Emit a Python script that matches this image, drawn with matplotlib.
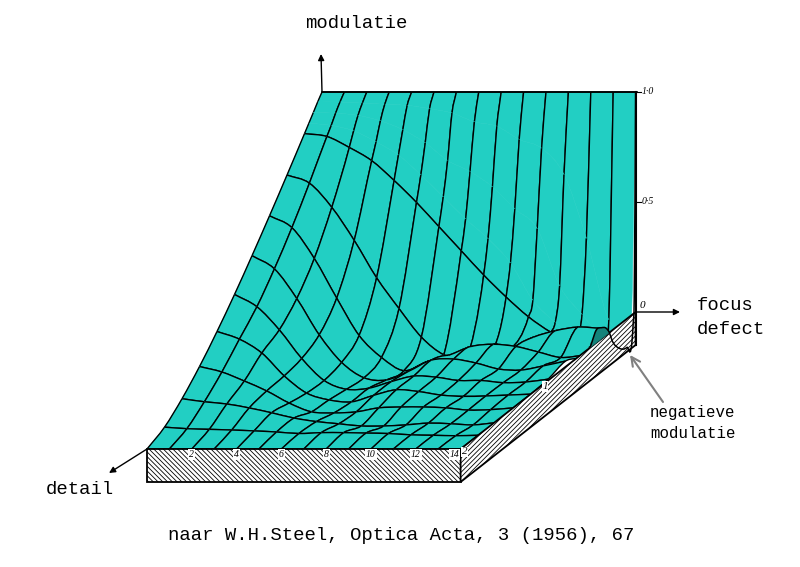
#!/bin/python3
import numpy as np
import matplotlib
matplotlib.use("Agg")
import matplotlib.pyplot as plt
from matplotlib.path import Path
from matplotlib.patches import PathPatch

# values
focus = list(range(15))
detail = [0, 0.05, 0.1, 0.15, 0.2, 0.4, 0.6, 0.8, 1.0, 1.2, 1.4, 1.6, 1.8, 2.0]
drawn_detail = [0, 0.2, 0.4, 0.6, 0.8, 1.0, 1.2, 1.4, 1.6, 1.8, 2.0]

d000 = [1, 1, 1, 1, 1, 1, 1, 1, 1, 1, 1, 1, 1, 1, 1]
d005 = [.97, .97, .965, .96, .955, .94, .92, .88, .86, .80, .76, .64, .35, -.02, -.06]
d010 = [.937, .935, .925, .90, .86, .80, .72, .67, .60, .50, .41, .15, .02, -.09, -.11]
d015 = [.905, .895, .87, .82, .76, .67, .57, .47, .38, .27, .10, .0, -.07, -.11, -.12]
d020 = [.873, .86, .81, .75, .66, .56, .45, .34, .23, .13, .04, -.03, -.08, -.10, -.10]
d040 = [.747, .71, .60, .45, .28, .14, .01, -.07, -.09, -.08, -.04, .01, .04, .056, .05]
d060 = [.624, .57, .43, .25, .08, -.02, -.08, -.04, -.01, .03, .04, .03, .005, -.02, -.01]
d080 = [.505, .445, .31, .145, .02, -.05, -.06, -.02, .03, .035, .017, -.01, -.015, .004, .026]
d100 = [.391, .335, .23, .10, 0, -.04, -.035, -.005, .02, .015, 0, 0, -.01, -.007, .006]
d120 = [.285, .25, .187, .083, .005, -.026, -.035, -.005, .02, .012, -.004, -.01, -.008, -.004, 0]
d140 = [.188, .163, .122, .077, .022, -.018, -.023, -.018, 0, .004, .004, 0, -.01, -.008, 0]
d160 = [.104, .09, .08, .062, .04, .016, 0, -.01, -.02, -.02, -.015, -.007, -.01, -.015, -.005]
d180 = [.037, .03, .027, .024, .02, .015, .008, .012, .012, .01, .008, .002, 0, -.002, 0]
d200 = [0, 0, 0, 0, 0, 0, 0, 0, 0, 0, 0, 0, 0, 0, 0]
modulation = np.array([d000, d005, d010, d015, d020, d040, d060, d080, d100,
                       d120, d140, d160, d180, d200], dtype=float)

# section along the right hand edge (focus defect 14)
edge_detail = [0, .016, .027, .04, .1, .19, .27, .3, .335, .39, .45, .5, .52]
edge_mod = [1, .06, -.04, -.115, -.13, -.105, -.044, 0, .03, .05, .058, .018, 0]

front_ticks = [2, 4, 6, 8, 10, 12, 14]
side_ticks = [1, 2]
mod_ticks = [1.0, 0.5, 0]
mod_labels = ["1·0", "0·5", "0"]

SLAB = -0.15
TEAL = "#22cfc3"
DARK = "#14837a"
MONO = "Liberation Mono"
SERIF = "Liberation Serif"


def project(f, d, z):
    # oblique view: focus goes right, detail goes down-left, modulation goes up
    f, d, z = np.asarray(f, float), np.asarray(d, float), np.asarray(z, float)
    return np.column_stack([322 + 22.4 * f - 87.5 * d + 0 * z,
                            312 + 68.5 * d - 220 * z + 0 * f])


def tangents(pts, t):
    return np.column_stack([np.gradient(pts[:, 0], t), np.gradient(pts[:, 1], t)])


def curve(pts, tan, t):
    # bezier segments through the read points, just for smooth drawing
    verts = []
    for i in range(len(t) - 1):
        h = t[i + 1] - t[i]
        verts += [pts[i] + tan[i] * h / 3, pts[i + 1] - tan[i + 1] * h / 3, pts[i + 1]]
    return verts


F = np.array(focus, float)
D = np.array(detail, float)
pts = np.zeros(modulation.shape + (2,))
for i, d in enumerate(detail):
    pts[i] = project(F, np.full(15, d), modulation[i])
along_f = np.zeros_like(pts)
along_d = np.zeros_like(pts)
for i in range(len(detail)):
    along_f[i] = tangents(pts[i], F)
for j in range(15):
    along_d[:, j] = tangents(pts[:, j], D)

fig = plt.figure(figsize=(8, 5.67), dpi=100)
ax = fig.add_axes([0, 0, 1, 1])
ax.set_xlim(0, 800)
ax.set_ylim(567, 0)
ax.axis("off")
plt.rcParams["hatch.linewidth"] = 0.6

LW = 1.0


def edge(first, seg):
    v = [first] + seg
    ax.add_patch(PathPatch(Path(v, [Path.MOVETO] + [Path.CURVE4] * (len(v) - 1)),
                           fc="none", ec="black", lw=LW))


# paint back to front so the ridges hide what lies behind them
for i in range(len(detail) - 1):
    for j in range(14):
        back = curve(pts[i, j:j + 2], along_f[i, j:j + 2], F[j:j + 2])
        right = curve(pts[i:i + 2, j + 1], along_d[i:i + 2, j + 1], D[i:i + 2])
        front = curve(pts[i + 1, [j + 1, j]], along_f[i + 1, [j + 1, j]], F[[j + 1, j]])
        left = curve(pts[[i + 1, i], j], along_d[[i + 1, i], j], D[[i + 1, i]])
        verts = [pts[i, j]] + back + right + front + left
        codes = [Path.MOVETO] + [Path.CURVE4] * (len(verts) - 1)
        ax.add_patch(PathPatch(Path(verts, codes), fc=TEAL, ec=TEAL, lw=0.4))

        if detail[i] in drawn_detail:
            edge(pts[i, j], back)
        if detail[i + 1] in drawn_detail:
            edge(pts[i + 1, j + 1], front)
        edge(pts[i + 1, j], left)
        if j < 13 or detail[i] >= 0.6:
            edge(pts[i, j + 1], right)

# slab under the surface
corners = project([0, 14, 14, 0], [2, 2, 2, 2], [0, 0, SLAB, SLAB])
ax.fill(corners[:, 0], corners[:, 1], facecolor="white", edgecolor="black", lw=1.3,
        hatch="\\\\\\\\\\\\\\")
corners = project([14, 14, 14, 14], [0, 2, 2, 0], [0, 0, SLAB, SLAB])
ax.fill(corners[:, 0], corners[:, 1], facecolor="white", edgecolor="black", lw=1.3,
        hatch="///////")

# cut through the surface on the right hand wall
ed = np.array(edge_detail, float)
em = np.array(edge_mod, float)
epts = project(np.full(len(ed), 14), ed, em)
etan = tangents(epts, ed)
lobe = np.where(ed >= 0.3)[0]
lverts = [epts[lobe[0]]] + curve(epts[lobe], etan[lobe], ed[lobe]) + [epts[lobe[0]]]
lcodes = [Path.MOVETO] + [Path.CURVE4] * (len(lverts) - 2) + [Path.LINETO]
ax.add_patch(PathPatch(Path(lverts, lcodes), fc=DARK, ec=DARK, lw=0.4, zorder=3))
everts = [epts[0]] + curve(epts, etan, ed)
ax.add_patch(PathPatch(Path(everts, [Path.MOVETO] + [Path.CURVE4] * (len(everts) - 1)),
                       fc="none", ec="black", lw=1.1, zorder=4))
wall = project([14, 14], [0, 0], [1, SLAB])
ax.plot(wall[:, 0], wall[:, 1], color="black", lw=1.5, zorder=4)
top = project([0, 14], [0, 0], [1, 1])
ax.plot(top[:, 0] + [0, 1], top[:, 1], color="black", lw=1.2, zorder=4)

# axis arrows
arrow = dict(arrowstyle="-|>", color="black", lw=1.0, mutation_scale=9, shrinkA=0, shrinkB=0)
ax.annotate("", xy=(321, 54), xytext=tuple(project([0], [0], [1])[0]), arrowprops=arrow)
ax.annotate("", xy=(680, 312), xytext=tuple(project([14], [0], [0])[0]), arrowprops=arrow)
ax.annotate("", xy=(109, 473), xytext=tuple(project([0], [2], [0])[0]), arrowprops=arrow)
ax.annotate("", xy=(630, 355), xytext=(663, 402),
            arrowprops=dict(arrowstyle="->", color="#808080", lw=1.5, mutation_scale=16,
                            shrinkA=0, shrinkB=0))

# ticks on the back edge
for v, lab in zip(mod_ticks, mod_labels):
    x, y = project([14], [0], [v])[0]
    if v > 0:
        ax.plot([x, x + 5], [y, y], color="black", lw=0.8)
        ax.text(x + 6, y, lab, fontsize=7, style="italic", family=SERIF, va="center", ha="left")
    else:
        ax.text(x + 4, y - 7, lab, fontsize=8, style="italic", family=SERIF, va="center", ha="left")

for v in front_ticks:
    x, y = project([v], [2], [-0.025])[0]
    if v == 14:
        x -= 6
    ax.text(x, y, str(v), fontsize=7, style="italic", family=SERIF, va="center", ha="center",
            zorder=5, bbox=dict(fc="white", ec="none", pad=0.6))
for v in side_ticks:
    x, y = project([14], [v], [0])[0]
    x += 4 if v == 2 else -3
    y += 3 if v == 2 else 6
    ax.text(x, y, str(v), fontsize=8, style="italic", family=SERIF, va="center", ha="center",
            zorder=5, bbox=dict(fc="white", ec="none", pad=0.4))

# texts
big = dict(family=MONO, fontsize=13.6, va="center", ha="left")
ax.text(305, 23, "modulatie", **big)
ax.text(697, 306, "focus", **big)
ax.text(697, 329, "defect", **big)
ax.text(46, 490, "detail", **big)
ax.text(168, 536, "naar W.H.Steel, Optica Acta, 3 (1956), 67", **big)
ax.text(650, 412, "negatieve", family=MONO, fontsize=11.3, va="center", ha="left")
ax.text(650, 434, "modulatie", family=MONO, fontsize=11.3, va="center", ha="left")

fig.savefig("out.png", dpi=100)
